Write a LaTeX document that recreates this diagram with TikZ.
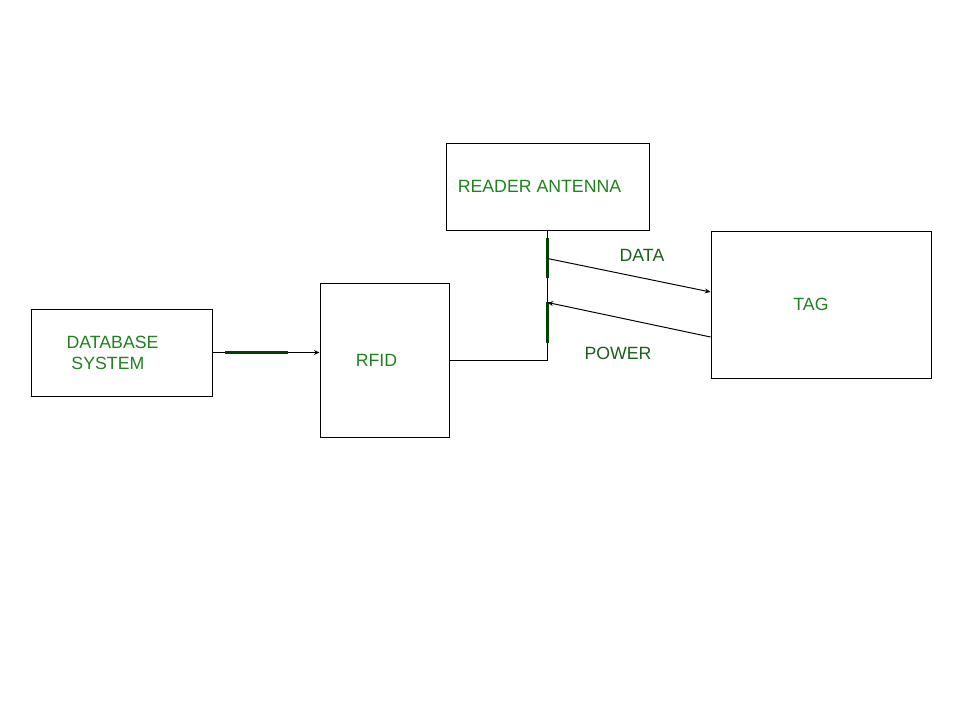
\documentclass[tikz,border=0pt]{standalone}
\usepackage{fontspec}
\setmainfont{Liberation Sans}
\usetikzlibrary{calc,arrows.meta}
\definecolor{boxgreen}{RGB}{30,130,30}
\definecolor{wiregreen}{RGB}{25,95,25}
\definecolor{darkgreen}{RGB}{0,65,0}
\begin{document}
\begin{tikzpicture}[x=0.025cm,y=-0.025cm,line width=0.7pt,
    >={Stealth[length=4pt,width=3.5pt]},
    box/.style 2 args={draw,inner sep=0pt,minimum width=#1*0.025cm,minimum height=#2*0.025cm},
    txt/.style={text=boxgreen,font=\fontsize{12.6}{15}\selectfont,align=left,inner sep=0pt},
    wiretxt/.style={txt,text=wiregreen},
    thickbar/.style={darkgreen,line width=1.6pt}]
                    \useasboundingbox (0,0) rectangle (960,720);
                    \node[box={181}{87}] (db) at (121.5,352.5) {};
                    \node[box={129}{154}] (rfid) at (384.5,360) {};
                    \node[box={203}{87}] (antenna) at (547.5,186.5) {};
                    \node[box={220}{147}] (tag) at (821,304.5) {};
                    \node[txt] (dbtext) at ($(db.center)+(-9,0)$) {DATABASE\\\ SYSTEM};
                    \node[txt] (rfidtext) at ($(rfid.center)+(-8,0)$) {RFID};
                    \node[txt] (antennatext) at ($(antenna.center)+(-8,0)$) {READER ANTENNA};
                    \node[txt] (tagtext) at ($(tag.center)+(-10,0)$) {TAG};
                    % antenna feed
                    \draw (rfid.east) -| (antenna.south);
                    \draw[thickbar] ($(antenna.south)+(0,8)$) --++ (0,40);
                    \draw[thickbar] ($(antenna.south)+(0,72)$) --++ (0,41);
                    % database link
                    \draw[->] (db.east) -- (db.east -| rfid.west);
                    \draw[thickbar] ($(db.east)+(13,0)$) --++ (63,0);
                    % data and power
                    \coordinate (dataout) at ($(antenna.south)+(0,28)$);
                    \coordinate (datain) at ($(tag.west)+(0,-12.5)$);
                    \coordinate (powerout) at ($(tag.west)+(0,32.5)$);
                    \coordinate (powerin) at ($(antenna.south)+(0,72)$);
                    \draw[->] (dataout) -- (datain);
                    \draw[->] (powerout) -- (powerin);
                    \node[wiretxt] (datalabel) at (642,255) {DATA};
                    \node[wiretxt] (powerlabel) at (618,353) {POWER};
                \end{tikzpicture}
\end{document}
